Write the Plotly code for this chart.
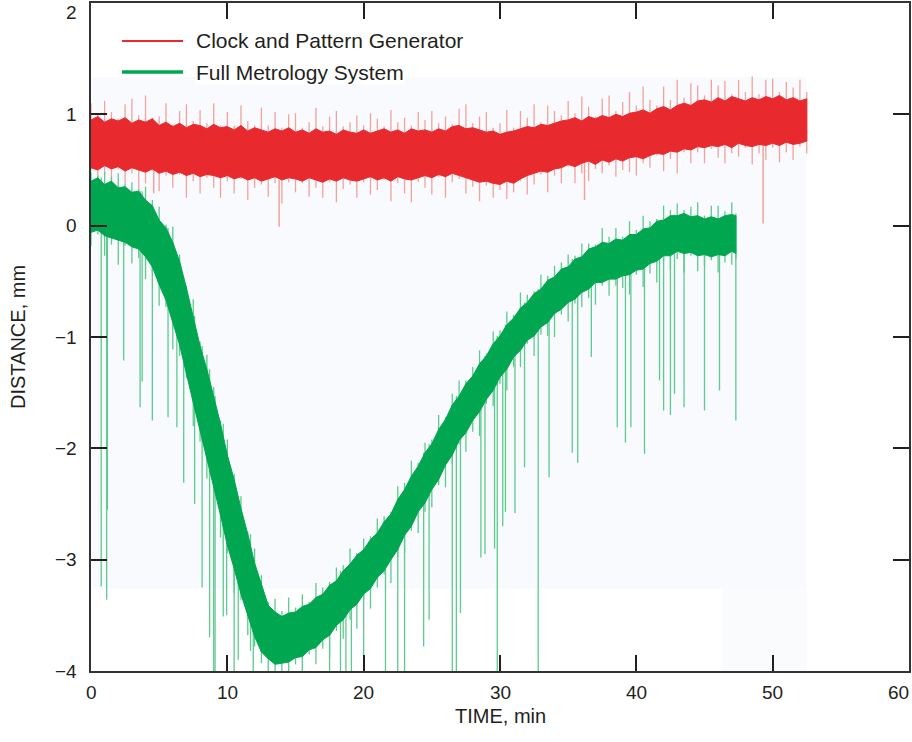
import numpy as np
import plotly.graph_objects as go

# ---------------- data ----------------
x_ticks = [0, 10, 20, 30, 40, 50, 60]
x_tick_text = ["0", "10", "20", "30", "40", "50", "60"]
y_ticks = [-4, -3, -2, -1, 0, 1, 2]
y_tick_text = ["\u22124", "\u22123", "\u22122", "\u22121", "0", "1", "2"]

series_names = ["Clock and Pattern Generator", "Full Metrology System"]

# sampling grid (min)
red_t = list(np.round(np.arange(0, 52.75, 0.5), 2))
green_t = list(np.round(np.arange(0, 47.25, 0.5), 2)) + [47.3]

red_core_hi = [0.95, 0.98, 0.93, 0.96, 0.94, 0.97, 0.92, 0.95, 0.93, 0.96,
               0.90, 0.93, 0.89, 0.92, 0.88, 0.91, 0.90, 0.87, 0.91, 0.88,
               0.89, 0.86, 0.90, 0.85, 0.88, 0.86, 0.84, 0.87, 0.85, 0.88,
               0.84, 0.86, 0.83, 0.87, 0.84, 0.85, 0.82, 0.86, 0.84, 0.83,
               0.86, 0.83, 0.85, 0.87, 0.84, 0.86, 0.83, 0.87, 0.85, 0.86,
               0.84, 0.87, 0.85, 0.89, 0.90, 0.87, 0.88, 0.86, 0.84, 0.85,
               0.82, 0.84, 0.85, 0.87, 0.89, 0.88, 0.91, 0.90, 0.92, 0.94,
               0.95, 0.97, 0.94, 0.98, 0.96, 0.99, 0.97, 1.00, 0.98, 1.01,
               1.02, 1.04, 1.01, 1.05, 1.07, 1.04, 1.08, 1.10, 1.08, 1.12,
               1.13, 1.11, 1.15, 1.12, 1.16, 1.14, 1.12, 1.15, 1.13, 1.16,
               1.14, 1.17, 1.13, 1.15, 1.12, 1.14]
red_core_lo = [0.52, 0.50, 0.54, 0.51, 0.53, 0.49, 0.52, 0.50, 0.48, 0.51,
               0.47, 0.49, 0.46, 0.48, 0.45, 0.47, 0.44, 0.46, 0.45, 0.43,
               0.45, 0.42, 0.44, 0.41, 0.43, 0.40, 0.42, 0.44, 0.41, 0.43,
               0.42, 0.40, 0.43, 0.41, 0.39, 0.42, 0.40, 0.43, 0.41, 0.40,
               0.42, 0.44, 0.41, 0.43, 0.40, 0.44, 0.42, 0.41, 0.43, 0.45,
               0.43, 0.46, 0.44, 0.47, 0.45, 0.43, 0.41, 0.39, 0.40, 0.38,
               0.37, 0.40, 0.38, 0.42, 0.45, 0.47, 0.49, 0.48, 0.51, 0.52,
               0.55, 0.53, 0.56, 0.58, 0.55, 0.59, 0.57, 0.60, 0.58, 0.61,
               0.62, 0.60, 0.63, 0.65, 0.64, 0.67, 0.66, 0.69, 0.68, 0.71,
               0.70, 0.72, 0.71, 0.73, 0.70, 0.74, 0.72, 0.71, 0.73, 0.72,
               0.74, 0.72, 0.75, 0.73, 0.74, 0.76]
red_peak_hi = [1.10, 1.01, 1.12, 1.02, 0.96, 1.09, 1.14, 0.99, 1.17, 0.97,
               0.98, 1.10, 0.91, 1.03, 1.09, 0.94, 1.04, 0.92, 1.10, 0.90,
               1.02, 0.90, 1.08, 0.94, 0.90, 1.06, 0.90, 1.02, 0.88, 1.00,
               1.01, 0.88, 0.93, 1.06, 0.89, 0.98, 1.03, 0.89, 0.93, 0.99,
               0.90, 1.01, 0.96, 0.89, 1.04, 0.93, 0.97, 0.90, 1.02, 0.95,
               1.03, 0.92, 0.98, 0.91, 1.05, 1.09, 0.92, 0.98, 1.02, 0.88,
               0.92, 1.04, 0.88, 1.03, 0.97, 1.09, 0.93, 1.08, 1.03, 0.99,
               1.12, 1.01, 1.16, 1.07, 0.98, 1.14, 1.17, 1.03, 1.11, 1.20,
               1.08, 1.25, 1.13, 1.08, 1.25, 1.13, 1.31, 1.15, 1.28, 1.26,
               1.17, 1.31, 1.26, 1.30, 1.18, 1.31, 1.20, 1.34, 1.18, 1.31,
               1.32, 1.20, 1.29, 1.24, 1.31, 1.20]
red_peak_lo = [0.49, 0.36, 0.46, 0.32, 0.51, 0.38, 0.47, 0.33, 0.38, 0.49,
               0.31, 0.45, 0.34, 0.46, 0.25, 0.40, 0.29, 0.43, 0.34, 0.25,
               0.40, 0.29, 0.42, 0.23, 0.34, 0.37, 0.26, 0.38, 0.20, 0.39,
               0.30, 0.38, 0.26, 0.34, 0.25, 0.39, 0.21, 0.33, 0.37, 0.25,
               0.39, 0.28, 0.32, 0.41, 0.22, 0.38, 0.29, 0.21, 0.39, 0.34,
               0.28, 0.44, 0.25, 0.39, 0.42, 0.29, 0.35, 0.22, 0.36, 0.25,
               0.32, 0.24, 0.30, 0.40, 0.28, 0.37, 0.46, 0.30, 0.45, 0.38,
               0.53, 0.38, 0.47, 0.40, 0.51, 0.47, 0.54, 0.44, 0.50, 0.48,
               0.45, 0.56, 0.52, 0.63, 0.49, 0.60, 0.47, 0.66, 0.56, 0.66,
               0.56, 0.69, 0.61, 0.56, 0.65, 0.62, 0.70, 0.55, 0.65, 0.59,
               0.70, 0.57, 0.66, 0.59, 0.71, 0.65]
red_spike_t = [4.6, 13.8, 36.2, 49.3]
red_spike_v = [0.29, -0.01, 0.23, 0.02]

green_core_hi = [0.40, 0.43, 0.37, 0.40, 0.34, 0.35, 0.30, 0.31, 0.23, 0.18,
                 0.05, -0.02, -0.15, -0.32, -0.56, -0.81, -1.08, -1.29, -1.53, -1.78,
                 -2.06, -2.28, -2.54, -2.77, -3.03, -3.21, -3.41, -3.47, -3.51, -3.48,
                 -3.47, -3.42, -3.40, -3.34, -3.31, -3.23, -3.19, -3.10, -3.04, -2.96,
                 -2.91, -2.82, -2.76, -2.66, -2.59, -2.46, -2.37, -2.25, -2.16, -2.04,
                 -1.96, -1.83, -1.74, -1.61, -1.53, -1.42, -1.35, -1.24, -1.17, -1.06,
                 -0.99, -0.89, -0.83, -0.74, -0.69, -0.61, -0.57, -0.49, -0.46, -0.39,
                 -0.37, -0.30, -0.28, -0.21, -0.19, -0.15, -0.16, -0.12, -0.13, -0.08,
                 -0.08, -0.03, -0.02, 0.04, 0.05, 0.09, 0.09, 0.11, 0.08, 0.09,
                 0.06, 0.08, 0.06, 0.09, 0.10, 0.09]
green_core_lo = [-0.06, -0.04, -0.09, -0.11, -0.13, -0.15, -0.19, -0.21, -0.28, -0.37,
                 -0.53, -0.67, -0.87, -1.07, -1.33, -1.59, -1.86, -2.09, -2.35, -2.60,
                 -2.87, -3.08, -3.31, -3.51, -3.69, -3.83, -3.89, -3.94, -3.93, -3.92,
                 -3.88, -3.87, -3.81, -3.79, -3.72, -3.68, -3.59, -3.54, -3.45, -3.40,
                 -3.31, -3.26, -3.16, -3.10, -3.00, -2.91, -2.78, -2.70, -2.57, -2.49,
                 -2.37, -2.28, -2.15, -2.06, -1.93, -1.86, -1.75, -1.67, -1.56, -1.48,
                 -1.36, -1.29, -1.18, -1.12, -1.03, -0.99, -0.91, -0.87, -0.79, -0.75,
                 -0.69, -0.66, -0.60, -0.57, -0.51, -0.51, -0.48, -0.48, -0.45, -0.44,
                 -0.40, -0.39, -0.34, -0.32, -0.27, -0.27, -0.23, -0.25, -0.24, -0.27,
                 -0.26, -0.28, -0.26, -0.27, -0.23, -0.25]
green_peak_hi = [0.48, 0.45, 0.48, 0.44, 0.47, 0.38, 0.39, 0.33, 0.35, 0.23,
                 0.17, 0.01, -0.01, -0.26, -0.54, -0.66, -1.04, -1.16, -1.45, -1.75,
                 -1.92, -2.23, -2.43, -2.75, -2.90, -3.14, -3.38, -3.35, -3.46, -3.34,
                 -3.43, -3.31, -3.38, -3.21, -3.25, -3.20, -3.07, -3.05, -2.90, -2.94,
                 -2.81, -2.79, -2.63, -2.61, -2.57, -2.34, -2.31, -2.11, -2.13, -1.95,
                 -1.92, -1.70, -1.72, -1.51, -1.39, -1.39, -1.27, -1.12, -1.15, -0.95,
                 -0.94, -0.77, -0.80, -0.60, -0.62, -0.59, -0.44, -0.45, -0.36, -0.33,
                 -0.26, -0.27, -0.16, -0.16, -0.17, -0.02, -0.10, -0.02, -0.10, 0.04,
                 -0.04, 0.09, 0.04, 0.06, 0.18, 0.14, 0.20, 0.14, 0.17, 0.21,
                 0.09, 0.18, 0.18, 0.13, 0.21, 0.11]
green_peak_lo = [-0.18, -0.08, -0.27, -0.17, -0.35, -0.18, -0.34, -0.29, -0.48, -0.42,
                 -0.72, -0.73, -1.11, -1.17, -1.37, -1.80, -1.94, -2.27, -2.40, -2.80,
                 -2.94, -3.30, -3.36, -3.68, -3.78, -3.93, -4.00, -4.00, -4.00, -4.00,
                 -3.94, -4.00, -3.85, -3.94, -3.80, -3.88, -3.64, -3.71, -3.54, -3.62,
                 -3.36, -3.44, -3.25, -3.13, -3.21, -2.98, -2.94, -2.74, -2.76, -2.57,
                 -2.53, -2.33, -2.35, -2.14, -1.96, -2.03, -1.85, -1.89, -1.60, -1.62,
                 -1.42, -1.48, -1.27, -1.27, -1.06, -1.17, -0.98, -0.99, -1.00, -0.80,
                 -0.86, -0.70, -0.73, -0.65, -0.71, -0.54, -0.63, -0.54, -0.56, -0.62,
                 -0.44, -0.55, -0.43, -0.51, -0.32, -0.40, -0.30, -0.42, -0.27, -0.41,
                 -0.36, -0.31, -0.42, -0.33, -0.35, -0.30]
green_spike_t = [0.75, 1.15, 1.2, 2.4, 3.6, 3.75, 4.5, 5.65, 6.3, 6.8, 7.6, 8.15, 8.7,
                 9.0, 9.1, 9.7, 9.95, 10.5, 10.8, 11.7, 11.9, 17.5, 18.3, 18.7, 19.1,
                 20.0, 21.6, 22.5, 23.0, 24.4, 24.8, 26.5, 26.8, 27.1, 28.6, 28.9,
                 29.6, 29.8, 30.2, 30.4, 31.1, 31.8, 32.8, 33.6, 35.3, 35.7, 36.7,
                 38.6, 39.2, 39.6, 40.6, 41.7, 42.0, 42.5, 42.8, 43.5, 45.0, 46.1, 47.3]
green_spike_v = [-3.24, -3.36, -2.55, -1.21, -1.63, -1.40, -1.75, -1.72, -1.81, -2.31,
                 -2.50, -3.25, -3.70, -4.0, -4.0, -3.51, -3.50, -4.0, -3.90, -3.82,
                 -4.0, -4.0, -4.0, -4.0, -4.0, -4.0, -4.0, -4.0, -4.0, -3.78, -3.54,
                 -4.0, -4.0, -3.48, -2.98, -2.95, -2.90, -4.0, -2.70, -2.57, -2.58,
                 -2.17, -4.0, -2.26, -2.04, -2.13, -1.18, -1.81, -1.95, -1.81, -2.05,
                 -1.39, -1.66, -1.70, -1.51, -1.63, -1.66, -1.48, -1.75]

# ---------------- styles ----------------
RED = "#e8292e"
RED_LIGHT = "#f3a29b"
GREEN = "#00a650"
GREEN_LIGHT = "#5ccb8d"
TXT = "#231f20"
FONT = "Liberation Sans, Arial, Helvetica, sans-serif"

L, R, T, B = 91, 909, 3, 671  # plot-area pixel box
PW, PH = R - L, B - T


def sticks(ts, lo, hi):
    xs, ys = [], []
    for t, a, b in zip(ts, lo, hi):
        xs += [t, t, None]
        ys += [a, b, None]
    return xs, ys


def nearest(ts, vals, t):
    i = int(np.argmin(np.abs(np.array(ts) - t)))
    return vals[i]


def band(ts, lo, hi):
    return list(ts) + list(ts)[::-1], list(hi) + list(lo)[::-1]


fig = go.Figure()

# red: light noise sticks, isolated spikes, dense core
sx, sy = sticks(red_t, red_peak_lo, red_peak_hi)
fig.add_trace(go.Scatter(x=sx, y=sy, mode="lines", line=dict(color=RED_LIGHT, width=1.3),
                         hoverinfo="skip", showlegend=False))
base = [nearest(red_t, red_core_lo, t) for t in red_spike_t]
sx, sy = sticks(red_spike_t, red_spike_v, base)
fig.add_trace(go.Scatter(x=sx, y=sy, mode="lines", line=dict(color=RED_LIGHT, width=1.5),
                         hoverinfo="skip", showlegend=False))
bx, by = band(red_t, red_core_lo, red_core_hi)
fig.add_trace(go.Scatter(x=bx, y=by, mode="lines", fill="toself", fillcolor=RED,
                         line=dict(color=RED, width=1), name=series_names[0],
                         showlegend=False))

# green: light noise sticks, deep spikes, dense core
sx, sy = sticks(green_t, green_peak_lo, green_peak_hi)
fig.add_trace(go.Scatter(x=sx, y=sy, mode="lines", line=dict(color=GREEN_LIGHT, width=1.3),
                         hoverinfo="skip", showlegend=False))
base = [nearest(green_t, green_core_hi, t) for t in green_spike_t]
sx, sy = sticks(green_spike_t, green_spike_v, base)
fig.add_trace(go.Scatter(x=sx, y=sy, mode="lines", line=dict(color=GREEN_LIGHT, width=1.3),
                         hoverinfo="skip", showlegend=False))
bx, by = band(green_t, green_core_lo, green_core_hi)
fig.add_trace(go.Scatter(x=bx, y=by, mode="lines", fill="toself", fillcolor=GREEN,
                         line=dict(color=GREEN, width=1), name=series_names[1],
                         showlegend=False))

# faint scanned background panels
shapes = [
    dict(type="rect", xref="x", yref="y", x0=0.05, x1=52.5, y0=-3.26, y1=1.335,
         fillcolor="#f8fafd", line=dict(width=0), layer="below"),
    dict(type="rect", xref="x", yref="y", x0=46.3, x1=52.5, y0=-4, y1=-3.26,
         fillcolor="#fafbfd", line=dict(width=0), layer="below"),
    # legend keys
    dict(type="line", xref="paper", yref="paper", x0=(122 - L) / PW, x1=(183 - L) / PW,
         y0=(B - 41) / PH, y1=(B - 41) / PH, line=dict(color=RED, width=2)),
    dict(type="line", xref="paper", yref="paper", x0=(122 - L) / PW, x1=(183 - L) / PW,
         y0=(B - 72) / PH, y1=(B - 72) / PH, line=dict(color=GREEN, width=3.5)),
]

annotations = []
for name, ypx in zip(series_names, [41, 72]):
    annotations.append(dict(xref="paper", yref="paper", x=(195 - L) / PW,
                            y=(B - ypx) / PH, text=name, showarrow=False,
                            xanchor="left", yanchor="middle", bgcolor="white",
                            borderpad=0,
                            font=dict(family=FONT, size=21, color=TXT)))
for v, txt in zip(y_ticks, y_tick_text):
    annotations.append(dict(xref="paper", yref="y", x=0, y=v, text=txt, showarrow=False,
                            xanchor="right", yanchor="middle", xshift=-12,
                            yshift=-9 if v == 2 else 0,
                            font=dict(family=FONT, size=19, color=TXT)))
for v, txt in zip(x_ticks, x_tick_text):
    annotations.append(dict(xref="x", yref="paper", x=v, y=0, text=txt, showarrow=False,
                            xanchor="center", yanchor="middle", yshift=-21,
                            xshift=-11 if v == 60 else 0,
                            font=dict(family=FONT, size=19, color=TXT)))
annotations.append(dict(xref="paper", yref="paper", x=0.5, y=0, text="TIME, min",
                        showarrow=False, xanchor="center", yanchor="middle", yshift=-45,
                        font=dict(family=FONT, size=20, color=TXT)))
annotations.append(dict(xref="paper", yref="paper", x=0, y=0.5, text="DISTANCE, mm",
                        showarrow=False, xanchor="center", yanchor="middle", xshift=-73,
                        textangle=-90, font=dict(family=FONT, size=20, color=TXT)))

fig.update_layout(
    width=912, height=742,
    margin=dict(l=L, r=912 - R, t=T, b=742 - B, autoexpand=False),
    paper_bgcolor="white", plot_bgcolor="white",
    font=dict(family=FONT, size=19, color=TXT),
    shapes=shapes, annotations=annotations,
    showlegend=False,
)
axis_style = dict(ticks="inside", ticklen=16, tickwidth=2, tickcolor="#231f20",
                  showline=True, linecolor="#333333", linewidth=2, mirror="ticks",
                  showgrid=False, zeroline=False, showticklabels=False, automargin=False)
fig.update_xaxes(range=[0, 60], tickvals=x_ticks, **axis_style)
fig.update_yaxes(range=[-4, 2], tickvals=y_ticks, **axis_style)

fig.write_html("out.html", config={"displayModeBar": False},
               post_script="document.body.style.margin='0';document.body.style.overflow='hidden';")
